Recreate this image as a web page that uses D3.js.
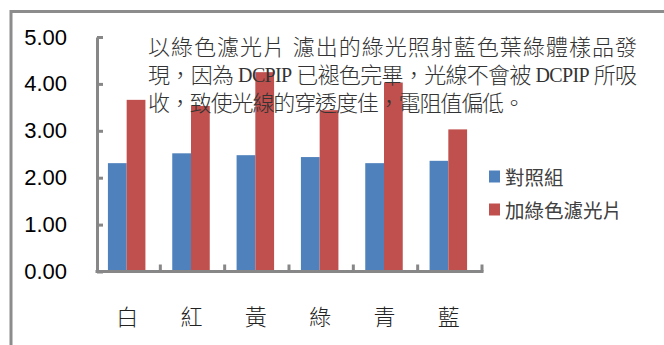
<!DOCTYPE html>
<html>
<head>
<meta charset="utf-8">
<script src="https://cdn.jsdelivr.net/npm/d3@7"></script>
<style>
  html, body { margin: 0; padding: 0; background: #fff; }
  svg { display: block; }
</style>
</head>
<body>
<script>
// Chart data
const categories = ["白", "紅", "黃", "綠", "青", "藍"];
const seriesNames = ["對照組", "加綠色濾光片"];
const controlValues = [2.31, 2.52, 2.48, 2.44, 2.31, 2.36];
const filterValues = [3.66, 3.53, 4.25, 3.44, 4.03, 3.03];
const yTicks = [0, 1, 2, 3, 4, 5];
const noteLines = [
  "以綠色濾光片 濾出的綠光照射藍色葉綠體樣品發",
  "現，因為 DCPIP 已褪色完畢，光線不會被 DCPIP 所吸",
  "收，致使光線的穿透度佳，電阻值偏低。"
];
// horizontal extent of each annotation line
const noteWidths = [489, 489, 377];

const W = 664, H = 345;
const colors = ["#4F81BD", "#C0504D"];
const axisColor = "#878787";
const cjkFont = "'Noto Sans CJK TC', sans-serif";

const svg = d3.select("body").append("svg")
  .attr("width", W).attr("height", H);

// Chart-area frame (top and left edges)
svg.append("path")
  .attr("d", "M11,345 L11,11.5 L664,11.5")
  .attr("fill", "none")
  .attr("stroke", "#8c8c8c")
  .attr("stroke-width", 3);

const y = d3.scaleLinear().domain([0, 5]).range([271.5, 37]);
const x = d3.scaleBand().domain(categories).range([96, 482]);
const groupW = 37.5;
const xs = d3.scaleBand().domain(d3.range(seriesNames.length)).range([0, groupW]);

const series = [controlValues, filterValues];

// Bars
series.forEach((vals, s) => {
  svg.append("g").selectAll("rect")
    .data(vals)
    .join("rect")
    .attr("x", (d, i) => x(categories[i]) + (x.bandwidth() - groupW) / 2 - 1.5 + xs(s))
    .attr("width", xs.bandwidth())
    .attr("y", d => y(d))
    .attr("height", d => y(0) - y(d))
    .attr("fill", colors[s]);
});

// Y axis
const yAxis = svg.append("g")
  .attr("transform", "translate(97,0)")
  .call(d3.axisLeft(y)
    .tickValues(yTicks)
    .tickSizeInner(-6)
    .tickSizeOuter(0)
    .tickPadding(30)
    .tickFormat(d3.format(".2f")));
yAxis.select(".domain").attr("stroke", axisColor).attr("stroke-width", 3);
yAxis.selectAll(".tick line").attr("stroke", axisColor).attr("stroke-width", 3);
yAxis.selectAll(".tick text")
  .attr("font-family", "'Liberation Sans', Arial, sans-serif")
  .attr("font-size", 22)
  .attr("fill", "#000");

// X axis line with boundary ticks
const xAxis = svg.append("g");
xAxis.append("line")
  .attr("x1", 95.5).attr("x2", 483.5)
  .attr("y1", y(0)).attr("y2", y(0))
  .attr("stroke", axisColor).attr("stroke-width", 3);
const bounds = d3.range(categories.length + 1).map(i => x.range()[0] + i * x.step());
xAxis.selectAll("line.tk")
  .data(bounds.slice(1))
  .join("line")
  .attr("class", "tk")
  .attr("x1", d => d).attr("x2", d => d)
  .attr("y1", y(0)).attr("y2", y(0) - 7)
  .attr("stroke", axisColor).attr("stroke-width", 3);
xAxis.selectAll("text")
  .data(categories)
  .join("text")
  .attr("x", d => x(d) + x.bandwidth() / 2 - 1)
  .attr("y", 315)
  .attr("text-anchor", "middle")
  .attr("dominant-baseline", "central")
  .attr("font-family", cjkFont)
  .attr("font-weight", 300)
  .attr("font-size", 22)
  .attr("fill", "#222")
  .text(d => d);

// Annotation text
const note = svg.append("g");
noteLines.forEach((line, i) => {
  const t = note.append("text")
    .attr("x", 148)
    .attr("y", 47 + i * 28)
    .attr("dominant-baseline", "central")
    .attr("font-family", "'Liberation Serif', " + cjkFont)
    .attr("font-weight", 300)
    .attr("font-size", 22)
    .attr("fill", "#333")
    .attr("textLength", noteWidths[i])
    .attr("lengthAdjust", "spacing");
  line.split(/(DCPIP)/).forEach(part => {
    if (!part) return;
    const ts = t.append("tspan").text(part);
    if (part === "DCPIP") ts.attr("font-size", 20);
  });
});

// Legend
const legend = svg.append("g");
seriesNames.forEach((name, i) => {
  const cy = 176.5 + i * 33;
  legend.append("rect")
    .attr("x", 489).attr("y", cy - 6)
    .attr("width", 11).attr("height", 12)
    .attr("fill", colors[i]);
  legend.append("text")
    .attr("x", 505).attr("y", cy)
    .attr("dominant-baseline", "central")
    .attr("font-family", cjkFont)
    .attr("font-size", 19.5)
    .attr("fill", "#404040")
    .text(name);
});
</script>
</body>
</html>
